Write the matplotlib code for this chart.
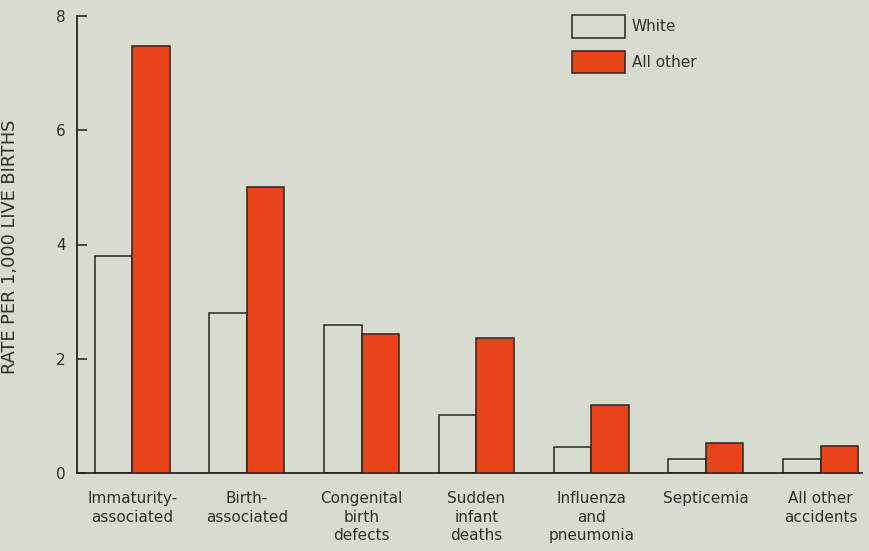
import matplotlib.pyplot as plt
import numpy as np

plt.rcParams.update({
    'font.family': ['DejaVu Sans'],
    'font.size': 11,
    'text.color': '#2e2e2e',
    'axes.labelcolor': '#2e2e2e',
    'xtick.color': '#2e2e2e',
    'ytick.color': '#2e2e2e',
})

# data
causes = ['Immaturity-\nassociated', 'Birth-\nassociated', 'Congenital\nbirth\ndefects',
          'Sudden\ninfant\ndeaths', 'Influenza\nand\npneumonia', 'Septicemia',
          'All other\naccidents']
white = [3.79, 2.80, 2.59, 1.02, 0.46, 0.25, 0.25]
all_other = [7.47, 5.01, 2.43, 2.36, 1.19, 0.53, 0.48]
y_ticks = [0, 2, 4, 6, 8]

bg = '#d8dccf'
red = '#e8431a'
edge = '#2a2522'

fig = plt.figure(figsize=(8.69, 5.51), dpi=100, facecolor=bg)
ax = fig.add_axes([77 / 869, 1 - 473 / 551, 785 / 869, 457 / 551])
ax.set_facecolor(bg)

x = np.arange(len(causes))
w = 0.327
ax.bar(x - w / 2, white, width=w, color=bg, edgecolor=edge, linewidth=1.1,
       label='White', zorder=2)
ax.bar(x + w / 2, all_other, width=w, color=red, edgecolor=edge, linewidth=1.1,
       label='All other', zorder=3)

ax.set_xlim(-0.48, 6.36)
ax.set_ylim(0, 8)
ax.set_yticks(y_ticks)
ax.set_xticks(x)
ax.set_xticklabels(causes, linespacing=1.3)
ax.tick_params(axis='x', length=0, pad=13)
ax.tick_params(axis='y', direction='in', length=7, width=1.2, pad=8)

for s in ['top', 'right']:
    ax.spines[s].set_visible(False)
for s in ['left', 'bottom']:
    ax.spines[s].set_linewidth(1.3)
    ax.spines[s].set_color(edge)

# y label placed in figure pixels, like the scanned original
fig.text(10 / 869, 1 - 247 / 551, 'RATE PER 1,000 LIVE BIRTHS', rotation=90,
         ha='center', va='center', fontsize=12.8)

fs = 11 * 100 / 72
ax.legend(loc='upper left', bbox_to_anchor=(572 / 869, 1 - 15 / 551),
          bbox_transform=fig.transFigure, frameon=False, borderpad=0,
          handlelength=53 / fs, handleheight=29 / fs, labelspacing=0.85,
          handletextpad=0.45, borderaxespad=0)

fig.savefig('out.png', dpi=100, facecolor=bg)
